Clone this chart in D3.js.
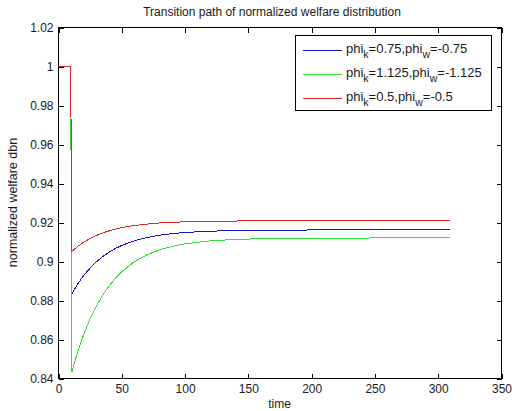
<!DOCTYPE html>
<html><head><meta charset="utf-8">
<script src="https://cdn.jsdelivr.net/npm/d3@7"></script>
<style>body{margin:0;background:#fff;}svg{display:block;}text{font-family:"Liberation Sans",Arial,sans-serif;fill:#1a1a1a;}</style>
</head><body>
<svg id="c" width="512" height="411"></svg>
<script>
const times = [0, 9, 10, 11, 13, 15, 18, 21, 25, 30, 35, 40, 45, 50, 60, 70, 80, 90, 100, 120, 140, 160, 200, 250, 310];
const blueVals  = [1, 1, 1, 0.8832, 0.8855, 0.8876, 0.8905, 0.8931, 0.8961, 0.8994, 0.9021, 0.9044, 0.9063, 0.9079, 0.9103, 0.9120, 0.9132, 0.9140, 0.9146, 0.9153, 0.9156, 0.9158, 0.9159, 0.9159, 0.9159];
const greenVals = [1, 1, 1, 0.8430, 0.8478, 0.8522, 0.8581, 0.8635, 0.8698, 0.8765, 0.8822, 0.8869, 0.8909, 0.8943, 0.8995, 0.9031, 0.9057, 0.9075, 0.9088, 0.9103, 0.9111, 0.9114, 0.9117, 0.9118, 0.9118];
const redVals   = [1, 1, 1, 0.9050, 0.9061, 0.9072, 0.9086, 0.9099, 0.9114, 0.9130, 0.9143, 0.9154, 0.9163, 0.9171, 0.9182, 0.9189, 0.9195, 0.9198, 0.9201, 0.9204, 0.9205, 0.9206, 0.9206, 0.9206, 0.9206];
const seriesColors = ["#1515cc", "#30e030", "#dd2828"];
const xTicks = [0, 50, 100, 150, 200, 250, 300, 350];
const yTicks = [0.84, 0.86, 0.88, 0.9, 0.92, 0.94, 0.96, 0.98, 1, 1.02];
const title = "Transition path of normalized welfare distribution";
const xLabel = "time";
const yLabel = "normalized welfare dbn";
const legendMain = [["phi","k","=0.75,phi","w","=-0.75"],["phi","k","=1.125,phi","w","=-1.125"],["phi","k","=0.5,phi","w","=-0.5"]];

const svg = d3.select("#c");
const L = 58, R = 501, T = 27, B = 378;
const x = d3.scaleLinear().domain([0, 350]).range([L, R]);
const y = d3.scaleLinear().domain([0.84, 1.02]).range([B, T]);
const FONT = '"Liberation Sans",Arial,sans-serif';

svg.append("rect").attr("x", L + 0.5).attr("y", T + 0.5).attr("width", R - L).attr("height", B - T)
  .attr("fill", "#fff").attr("stroke", "#000").attr("stroke-width", 1).attr("shape-rendering", "crispEdges");

const tl = 5;
const gx = svg.append("g").attr("transform", `translate(0.5,${B + 0.5})`)
  .call(d3.axisBottom(x).tickValues(xTicks).tickSizeInner(-tl).tickSizeOuter(0).tickPadding(6).tickFormat(d3.format("d")));
const gxt = svg.append("g").attr("transform", `translate(0.5,${T + 0.5})`)
  .call(d3.axisTop(x).tickValues(xTicks).tickSizeInner(-tl).tickSizeOuter(0).tickFormat(""));
const gy = svg.append("g").attr("transform", `translate(${L + 0.5},0.5)`)
  .call(d3.axisLeft(y).tickValues(yTicks).tickSizeInner(-tl).tickSizeOuter(0).tickPadding(5).tickFormat(d => String(+d.toFixed(2))));
const gyr = svg.append("g").attr("transform", `translate(${R + 0.5},0.5)`)
  .call(d3.axisRight(y).tickValues(yTicks).tickSizeInner(-tl).tickSizeOuter(0).tickFormat(""));
[gx, gxt, gy, gyr].forEach(g => {
  g.select(".domain").remove();
  g.selectAll("line").attr("stroke", "#000").attr("shape-rendering", "crispEdges");
  g.selectAll("text").attr("font-size", 12).attr("fill", "#1a1a1a").attr("font-family", FONT);
});

const data = [blueVals, greenVals, redVals];
const line = d3.line().x((d, i) => x(times[i])).y(d => y(d));
data.forEach((vals, k) => {
  svg.append("path").datum(vals).attr("d", line).attr("fill", "none")
    .attr("stroke", seriesColors[k]).attr("stroke-width", 1).attr("shape-rendering", "crispEdges");
});

svg.append("text").attr("x", 272).attr("y", 16).attr("text-anchor", "middle").attr("font-size", 12).text(title);
svg.append("text").attr("x", (L + R) / 2).attr("y", 408).attr("text-anchor", "middle").attr("font-size", 12).text(xLabel);
svg.append("text").attr("transform", `translate(17,${(T + B) / 2}) rotate(-90)`).attr("text-anchor", "middle").attr("font-size", 12.5).text(yLabel);

const lg = svg.append("g");
lg.append("rect").attr("x", 295.5).attr("y", 35.5).attr("width", 196).attr("height", 75)
  .attr("fill", "#fff").attr("stroke", "#000").attr("shape-rendering", "crispEdges");
const rowY = [50, 73.5, 97.5];
legendMain.forEach((parts, i) => {
  lg.append("line").attr("x1", 303).attr("x2", 342).attr("y1", rowY[i] + 0.5).attr("y2", rowY[i] + 0.5)
    .attr("stroke", seriesColors[i]).attr("stroke-width", 1).attr("shape-rendering", "crispEdges");
  const t = lg.append("text").attr("x", 346).attr("y", rowY[i] + 3).attr("font-size", 13);
  parts.forEach((p, j) => {
    const sub = j % 2 === 1;
    t.append("tspan").attr("font-size", sub ? 10.5 : 13).attr("dy", sub ? 5 : (j === 0 ? 0 : -5)).text(p);
  });
});
</script>
</body></html>
